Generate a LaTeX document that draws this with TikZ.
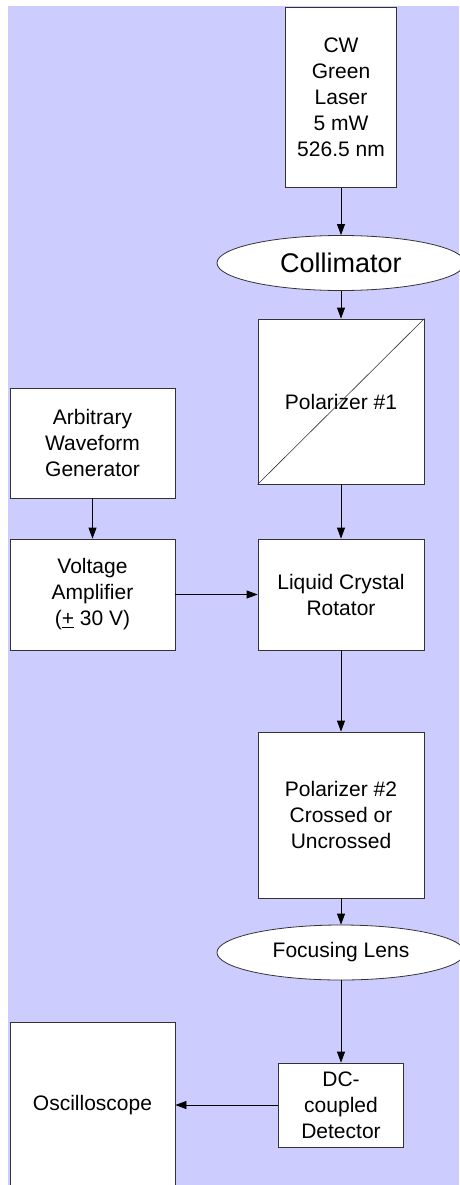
\documentclass[tikz,border=0pt]{standalone}
\usepackage{fontspec}
\setmainfont{Liberation Sans}
\usetikzlibrary{shapes.geometric,arrows.meta}
\definecolor{bgblue}{HTML}{CCCCFF}
\definecolor{edge}{HTML}{333333}

\begin{document}
\begin{tikzpicture}[x=1pt, y=-1pt,
			box/.style={draw=edge, fill=white, rectangle, line width=0.8pt, inner sep=0pt, align=center, font=\fontsize{21}{26}\selectfont},
			lens/.style={draw=edge, fill=white, ellipse, line width=0.8pt, inner sep=0pt, minimum width=248pt, minimum height=55pt, font=\fontsize{21}{26}\selectfont},
			beam/.style={-{Triangle[length=11pt, width=8pt]}, line width=0.8pt}]
			\useasboundingbox (0,0) rectangle (459,1185);
			\fill[bgblue] (8,6) rectangle (459,1185);

			\node[box, minimum width=110.5pt, minimum height=179.5pt] (laser) at (341,97.5) {CW\\Green\\Laser\\5 mW\\526.5 nm};
			\node[lens, font=\fontsize{27}{32}\selectfont] (coll) at (341,263) {Collimator};
			\node[box, minimum width=166pt, minimum height=165pt] (pol1) at (341,401.5) {Polarizer \#1};
			\node[box, minimum width=166pt, minimum height=111pt] (lcr) at (341,594.5) {Liquid Crystal\\Rotator};
			\node[box, minimum width=165pt, minimum height=110pt] (awg) at (92.5,443) {Arbitrary\\Waveform\\Generator};
			\node[box, minimum width=165pt, minimum height=111pt] (amp) at (92.5,594.5) {Voltage\\Amplifier\\(\underline{+} 30 V)};
			\node[box, minimum width=166pt, minimum height=166pt] (pol2) at (341,815) {Polarizer \#2\\Crossed or\\Uncrossed};
			\node[lens] (focus) at (341,952.5) {Focusing Lens};
			\node[box, minimum width=125pt, minimum height=84pt] (det) at (341,1105) {DC-\\coupled\\Detector};
			\node[box, minimum width=165pt, minimum height=166pt] (osc) at (92.5,1105) {Oscilloscope};

			\draw[edge, line width=0.6pt] (pol1.south west) to (pol1.north east);

			\draw[beam] (laser) to (coll);
			\draw[beam] (coll) to (pol1);
			\draw[beam] (pol1) to (lcr);
			\draw[beam] (awg) to (amp);
			\draw[beam] (amp) to (lcr);
			\draw[beam] (lcr) to (pol2);
			\draw[beam] (pol2) to (focus);
			\draw[beam] (focus) to (det);
			\draw[beam] (det) to (osc);

		\end{tikzpicture}
\end{document}
